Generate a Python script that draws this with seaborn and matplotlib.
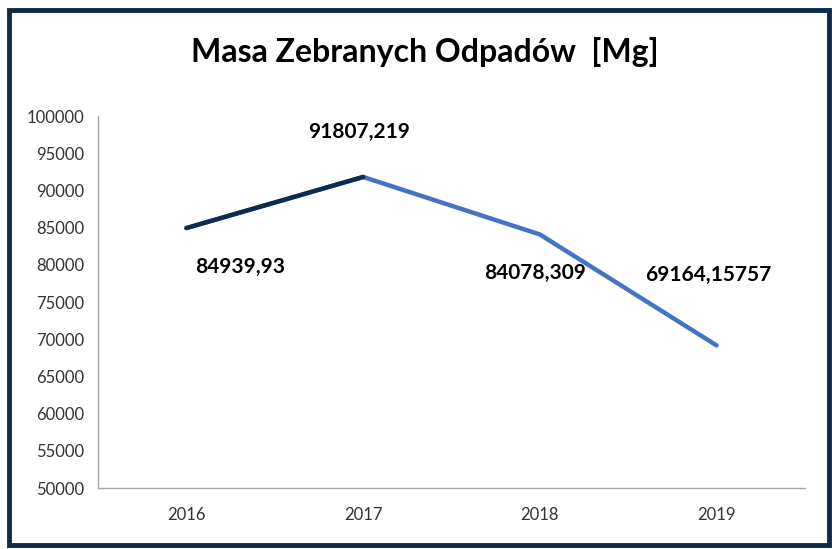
## Masa zebranych odpadow - wykres liniowy

import pandas as pd
import matplotlib.pyplot as plt
import matplotlib.patches as patches
import seaborn as sns

# dane
years = ["2016", "2017", "2018", "2019"]
mass = [84939.93, 91807.219, 84078.309, 69164.15757]
# przesuniecie etykiet (piksele) wzgledem punktu
label_dx = [54, -4, -5, -8]
label_dy = [-39, 45, -39, 70]

df = pd.DataFrame({"rok": years, "masa": mass})

sns.set_theme(style="white")
plt.rcParams["font.family"] = ["Lato", "DejaVu Sans"]

fig = plt.figure(figsize=(8.32, 5.49), dpi=100)
ax = fig.add_axes([0.1178, 0.1111, 0.8497, 0.6776])

# cala linia niebieska, pierwszy odcinek ciemny
sns.lineplot(data=df, x="rok", y="masa", ax=ax, color="#4472C4", lw=3.2, sort=False)
sns.lineplot(data=df.iloc[:2], x="rok", y="masa", ax=ax, color="#0E2A4F", lw=3.2, sort=False)

for i, v in enumerate(mass):
    ax.annotate(str(v).replace(".", ","), (i, v), xytext=(label_dx[i], label_dy[i]),
                textcoords="offset pixels", ha="center", va="center",
                fontsize=15, fontweight="bold", color="black")

ax.set_xlim(-0.5, 3.5)
ax.set_ylim(50000, 100000)
ax.set_yticks(range(50000, 100001, 5000))
ax.set_xlabel("")
ax.set_ylabel("")
ax.tick_params(axis="both", labelsize=12, colors="#333333", length=0, pad=10)
ax.tick_params(axis="x", pad=14)
for s in ["top", "right"]:
    ax.spines[s].set_visible(False)
for s in ["left", "bottom"]:
    ax.spines[s].set_color("#A6A6A6")
    ax.spines[s].set_linewidth(1)

fig.text(0.51, 0.905, "Masa Zebranych Odpadów  [Mg]", ha="center", va="center",
         fontsize=23, fontweight="bold", color="black")

# ramka
fig.patches.append(patches.Rectangle((9 / 832, 4 / 549), 820 / 832, 535 / 549,
                                     transform=fig.transFigure, fill=False,
                                     edgecolor="#0E2A4F", lw=3.5))

fig.savefig("out.png", dpi=100)
